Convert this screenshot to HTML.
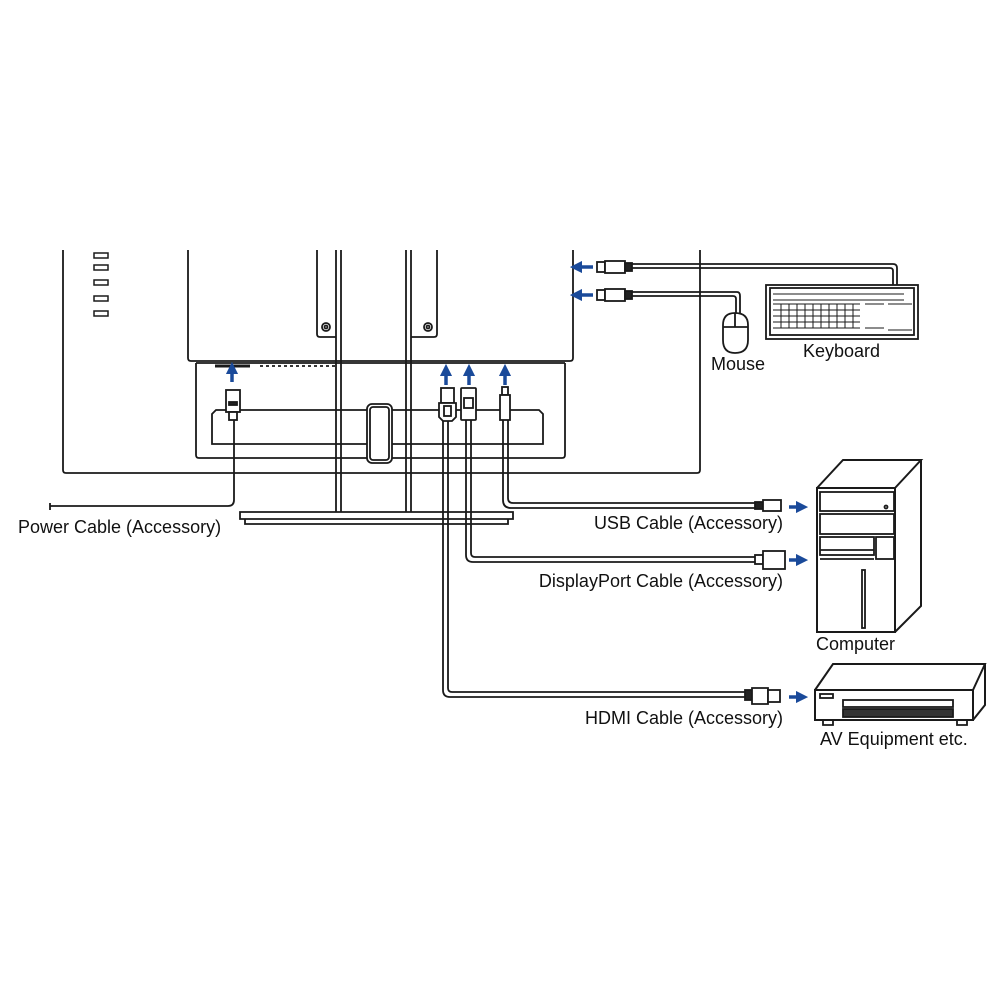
<!DOCTYPE html>
<html><head><meta charset="utf-8"><style>
html,body{margin:0;padding:0;background:#fff;}
svg{display:block;}
text{font-family:"Liberation Sans",sans-serif;font-size:18px;fill:#111;}
</style></head><body>
<svg width="1000" height="1000" viewBox="0 0 1000 1000" xmlns="http://www.w3.org/2000/svg">
<defs>
<marker id="ab" viewBox="0 0 10 10" refX="5" refY="5" markerWidth="3.5" markerHeight="3.5" orient="auto-start-reverse"><path d="M0,0 L10,5 L0,10 z" fill="#1a4a9a"/></marker>
</defs>
<g fill="none" stroke="#1a1a1a" stroke-width="1.8">
<path d="M63,250 V470 Q63,473 66,473 H697 Q700,473 700,470 V250"/>
<path d="M188,250 V358 Q188,361 191,361 H570 Q573,361 573,358 V250"/>
<path d="M196,363 V455 Q196,458 199,458 H562 Q565,458 565,455 V363"/>
<path d="M216,410 H539 L543,414 V444 H212 V414 Z"/>
<path d="M196,363 H565"/>
<path d="M317,250 V334 Q317,337 320,337 H336"/>
<path d="M437,250 V334 Q437,337 434,337 H411"/>
<circle cx="326" cy="327" r="4"/><circle cx="326" cy="327" r="1.5"/>
<circle cx="428" cy="327" r="4"/><circle cx="428" cy="327" r="1.5"/>
<path d="M336,250 V512 M341,250 V512 M406,250 V512 M411,250 V512"/>
<rect x="367" y="404" width="25" height="59" rx="5" fill="#fff"/>
<rect x="370" y="407" width="19" height="53" rx="3"/>
<path d="M240,512 H513 V519 H240 Z" fill="#fff"/>
<path d="M245,519 V524 H508 V519"/>
<g stroke-width="1.5">
<rect x="94" y="253" width="14" height="5"/><rect x="94" y="265" width="14" height="5"/><rect x="94" y="280" width="14" height="5"/><rect x="94" y="296" width="14" height="5"/><rect x="94" y="311" width="14" height="5"/>
</g>
<path d="M215,366 H250" stroke-width="3"/>
<path d="M260,366 H335" stroke-dasharray="3,3"/>
<path d="M234,420 V500 Q234,506 228,506 H50"/>
<path d="M50,503 V510"/>
<rect x="226" y="390" width="14" height="22" fill="#fff"/>
<rect x="229" y="402" width="8" height="3" fill="#222"/>
<rect x="229" y="412" width="8" height="8" fill="#fff"/>
<path d="M443,420 V690 Q443,697 450,697 H745 M448,420 V688 Q448,692 452,692 H745"/>
<rect x="441" y="388" width="13" height="15" fill="#fff"/>
<path d="M439,403 H456 V417 L452,421 H443 L439,417 Z" fill="#fff"/>
<rect x="444" y="406" width="7" height="10"/>
<path d="M466,420 V555 Q466,562 473,562 H755 M471,420 V553 Q471,557 475,557 H755"/>
<rect x="461" y="388" width="15" height="32" fill="#fff" rx="1"/>
<rect x="464" y="398" width="9" height="10"/>
<path d="M503,420 V500 Q503,508 511,508 H755 M508,420 V498 Q508,503 513,503 H755"/>
<rect x="502" y="387" width="6" height="8" fill="#fff"/>
<rect x="500" y="395" width="10" height="25" fill="#fff"/>
<rect x="755" y="502" width="8" height="7" fill="#222"/>
<rect x="763" y="500" width="18" height="11" fill="#fff"/>
<rect x="755" y="555" width="8" height="9" fill="#fff"/>
<rect x="763" y="551" width="22" height="18" fill="#fff"/>
<rect x="745" y="690" width="7" height="10" fill="#222"/>
<path d="M752,688 H768 V704 H752 Z" fill="#fff"/>
<rect x="768" y="690" width="12" height="12" fill="#fff"/>
<path d="M632,268 H890 Q893,268 893,271 V287 M632,264 H893 Q897,264 897,268 V287"/>
<path d="M632,296 H733 Q736,296 736,299 V315 M632,292 H737 Q740,292 740,296 V315"/>
<rect x="597" y="262" width="8" height="10" fill="#fff"/><rect x="605" y="261" width="20" height="12" fill="#fff"/><rect x="625" y="263" width="7" height="8" fill="#222"/>
<rect x="597" y="290" width="8" height="10" fill="#fff"/><rect x="605" y="289" width="20" height="12" fill="#fff"/><rect x="625" y="291" width="7" height="8" fill="#222"/>
<path d="M723,325 Q723,313 735,313 Q748,313 748,325 V340 Q748,353 735,353 Q723,353 723,340 Z" fill="#fff"/>
<path d="M723,327 H748 M735,313 V327"/>
<rect x="766" y="285" width="152" height="54" fill="#fff"/>
<rect x="770" y="288" width="144" height="47"/>
<g stroke-width="1">
<path d="M773,294 H904 M773,300 H904 M773,304 H860 M773,310 H860 M773,316 H860 M773,322 H860 M773,328 H860 M865,304 H884 M865,328 H884 M888,304 H912 M888,330 H912"/>
<path d="M781,304 V328 M789,304 V328 M797,304 V328 M805,304 V328 M813,304 V328 M821,304 V328 M829,304 V328 M837,304 V328 M845,304 V328 M853,304 V328"/>
</g>
<path d="M817,488 H895 V632 H817 Z M817,488 L843,460 H921 L895,488 M921,460 V606 L895,632" fill="#fff" stroke-width="2"/>
<rect x="820" y="492" width="74" height="19"/><rect x="820" y="514" width="74" height="20"/>
<rect x="820" y="537" width="54" height="18"/><rect x="876" y="537" width="18" height="22"/>
<path d="M820,550 H874 M820,559 H874"/>
<rect x="862" y="570" width="3" height="58"/>
<circle cx="886" cy="507" r="1.5"/>
<path d="M815,690 H973 V720 H815 Z M815,690 L833,664 H985 L973,690 M985,664 V705 L973,720" fill="#fff" stroke-width="2"/>
<rect x="820" y="694" width="13" height="4"/>
<rect x="843" y="700" width="110" height="7"/>
<rect x="843" y="709" width="110" height="8" fill="#333"/>
<path d="M823,720 V725 H833 V720 M957,720 V725 H967 V720"/>
</g>
<g stroke="#1a4a9a" stroke-width="3.5" fill="none" marker-end="url(#ab)">
<path d="M232,382 V368"/><path d="M446,385 V370"/><path d="M469,385 V370"/><path d="M505,385 V370"/>
<path d="M593,267 H576"/><path d="M593,295 H576"/>
<path d="M789,507 H802"/><path d="M789,560 H802"/><path d="M789,697 H802"/>
</g>
<text x="18" y="533">Power Cable (Accessory)</text>
<text x="783" y="529" text-anchor="end">USB Cable (Accessory)</text>
<text x="783" y="587" text-anchor="end">DisplayPort Cable (Accessory)</text>
<text x="783" y="724" text-anchor="end">HDMI Cable (Accessory)</text>
<text x="711" y="370">Mouse</text>
<text x="803" y="357">Keyboard</text>
<text x="816" y="650">Computer</text>
<text x="820" y="745">AV Equipment etc.</text>
</svg>
</body></html>
